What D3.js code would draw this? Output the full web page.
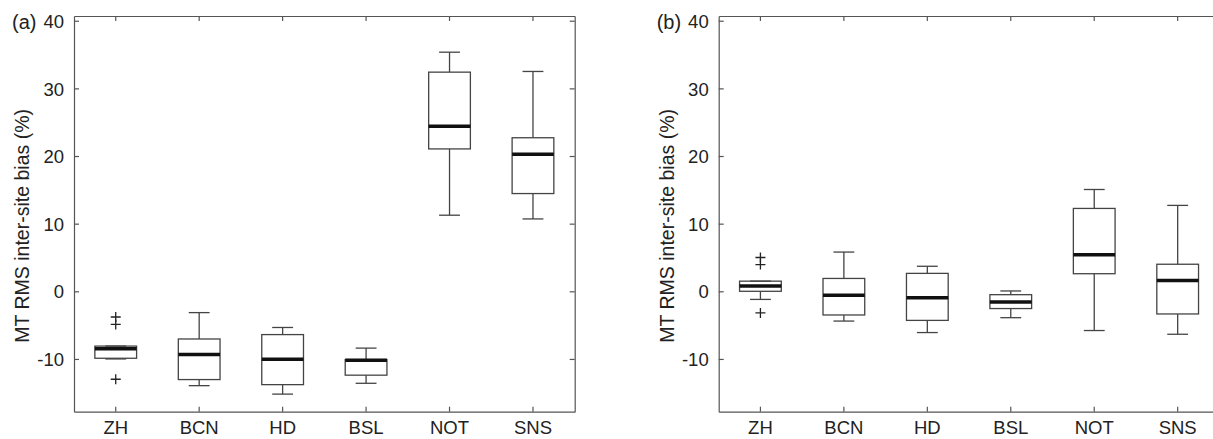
<!DOCTYPE html>
<html>
<head>
<meta charset="utf-8">
<script src="https://cdn.jsdelivr.net/npm/d3@7"></script>
<style>
  body { margin: 0; background: #fff; }
  svg text { font-family: "Liberation Sans", Arial, Helvetica, sans-serif; fill: #222; }
</style>
</head>
<body>
<div id="chart"></div>
<script>
// categories and ticks
const categories = ["ZH", "BCN", "HD", "BSL", "NOT", "SNS"]
const yTicks = [-10, 0, 10, 20, 30, 40]

// panel (a) box stats
const aLow  = [-10.0, -13.95, -15.2, -13.6, 11.25, 10.7]
const aQ1   = [-9.9, -13.05, -13.8, -12.4, 21.05, 14.45]
const aMed  = [-8.5, -9.35, -10.05, -10.2, 24.4, 20.25]
const aQ3   = [-8.1, -7.05, -6.4, -10.1, 32.4, 22.7]
const aHigh = [-8.1, -3.15, -5.35, -8.4, 35.35, 32.5]
const aOutCat = ["ZH", "ZH", "ZH"]
const aOutVal = [-3.8, -4.9, -13.0]

// panel (b) box stats
const bLow  = [-1.2, -4.4, -6.1, -3.9, -5.8, -6.35]
const bQ1   = [0.0, -3.5, -4.3, -2.55, 2.6, -3.35]
const bMed  = [0.8, -0.6, -0.95, -1.6, 5.4, 1.6]
const bQ3   = [1.5, 1.9, 2.65, -0.5, 12.25, 4.0]
const bHigh = [1.5, 5.8, 3.7, 0.05, 15.05, 12.7]
const bOutCat = ["ZH", "ZH", "ZH"]
const bOutVal = [5.0, 3.95, -3.2]

const width = 1213
const height = 439
const plotW = 500.7
const plotTop = 16, plotBottom = 411.7

const svg = d3.select("#chart").append("svg")
  .attr("width", width)
  .attr("height", height)

function drawPanel(left, tag, low, q1, med, q3, high, outCat, outVal) {
  const x = d3.scaleBand().domain(categories).range([left, left + plotW]).padding(0)
  const y = d3.scaleLinear().domain([-17.8, 40.7]).range([plotBottom, plotTop])
  const bw = x.bandwidth()
  const cx = c => x(c) + bw / 2

  const g = svg.append("g")

  // axes (box with inward ticks)
  const axL = g.append("g").attr("transform", `translate(${left},0)`)
    .call(d3.axisLeft(y).tickValues(yTicks).tickFormat(d => String(d))
      .tickSizeInner(-5).tickSizeOuter(0).tickPadding(10))
  const axR = g.append("g").attr("transform", `translate(${left + plotW},0)`)
    .call(d3.axisRight(y).tickValues(yTicks).tickSizeInner(-5).tickSizeOuter(0).tickFormat(""))
  const axT = g.append("g").attr("transform", `translate(0,${plotTop})`)
    .call(d3.axisTop(x).tickSizeInner(-5).tickSizeOuter(0).tickFormat(""))
  const axB = g.append("g").attr("transform", `translate(0,${plotBottom})`)
    .call(d3.axisBottom(x).tickSizeInner(-5).tickSizeOuter(0).tickPadding(9.5))
  ;[axL, axR, axT, axB].forEach(a => {
    a.selectAll("path, line").attr("stroke", "#555").attr("stroke-width", 1.2)
    a.selectAll("text").attr("font-size", 18.5).attr("fill", "#222")
  })
  axL.selectAll("text").attr("dy", "0.36em")

  // boxes
  const data = categories.map((c, i) => ({c, low: low[i], q1: q1[i], med: med[i], q3: q3[i], high: high[i]}))
  const boxes = g.append("g").selectAll("g").data(data).enter().append("g")
  const stroke = "#444"
  boxes.append("line")
    .attr("x1", d => cx(d.c)).attr("x2", d => cx(d.c))
    .attr("y1", d => y(d.high)).attr("y2", d => y(d.q3))
    .attr("stroke", stroke).attr("stroke-width", 1.3)
  boxes.append("line")
    .attr("x1", d => cx(d.c)).attr("x2", d => cx(d.c))
    .attr("y1", d => y(d.q1)).attr("y2", d => y(d.low))
    .attr("stroke", stroke).attr("stroke-width", 1.3)
  boxes.append("line")
    .attr("x1", d => cx(d.c) - bw * 0.125).attr("x2", d => cx(d.c) + bw * 0.125)
    .attr("y1", d => y(d.high)).attr("y2", d => y(d.high))
    .attr("stroke", stroke).attr("stroke-width", 1.3)
  boxes.append("line")
    .attr("x1", d => cx(d.c) - bw * 0.125).attr("x2", d => cx(d.c) + bw * 0.125)
    .attr("y1", d => y(d.low)).attr("y2", d => y(d.low))
    .attr("stroke", stroke).attr("stroke-width", 1.3)
  boxes.append("rect")
    .attr("x", d => cx(d.c) - bw * 0.25)
    .attr("width", bw * 0.5)
    .attr("y", d => y(d.q3))
    .attr("height", d => y(d.q1) - y(d.q3))
    .attr("fill", "none").attr("stroke", stroke).attr("stroke-width", 1.3)
  boxes.append("line")
    .attr("x1", d => cx(d.c) - bw * 0.25).attr("x2", d => cx(d.c) + bw * 0.25)
    .attr("y1", d => y(d.med)).attr("y2", d => y(d.med))
    .attr("stroke", "#111").attr("stroke-width", 3.5)

  // outliers as + markers
  const outs = outCat.map((c, i) => ({c, v: outVal[i]}))
  g.append("g").selectAll("path").data(outs).enter().append("path")
    .attr("d", d => {
      const px = cx(d.c), py = y(d.v), s = 5
      return `M${px - s},${py}H${px + s}M${px},${py - s}V${py + s}`
    })
    .attr("stroke", "#222").attr("stroke-width", 1.3).attr("fill", "none")

  // y label
  const midY = (plotTop + plotBottom) / 2 + 12
  g.append("text")
    .attr("transform", `translate(${left - 45},${midY}) rotate(-90)`)
    .attr("text-anchor", "middle")
    .attr("font-size", 19.5)
    .text("MT RMS inter-site bias (%)")

  // panel tag
  g.append("text")
    .attr("x", left - 62).attr("y", 29)
    .attr("font-size", 20)
    .text(tag)
}

drawPanel(74, "(a)", aLow, aQ1, aMed, aQ3, aHigh, aOutCat, aOutVal)
drawPanel(718.7, "(b)", bLow, bQ1, bMed, bQ3, bHigh, bOutCat, bOutVal)
</script>
</body>
</html>
